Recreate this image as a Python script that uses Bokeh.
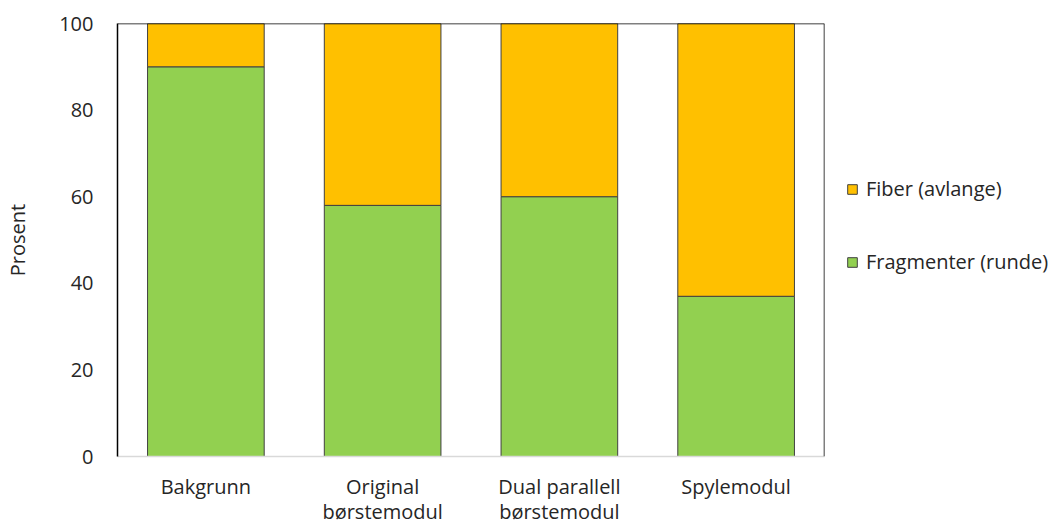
from bokeh.plotting import figure
from bokeh.layouts import row
from bokeh.models import Legend, LegendItem, Span, FixedTicker
from bokeh.embed import file_html
from bokeh.resources import INLINE

categories = ["Bakgrunn", "Original\nbørstemodul", "Dual parallell\nbørstemodul", "Spylemodul"]
fragmenter = [90, 58, 60, 37]
fiber = [10, 42, 40, 63]
series_names = ["Fragmenter (runde)", "Fiber (avlange)"]
colors = ["#92d050", "#ffc000"]
yticks = [0, 20, 40, 60, 80, 100]

FONT = "Open Sans"
TXT = "#262626"
EDGE = "#404040"
H = 528

p = figure(x_range=categories, y_range=(0, 100), width=826, height=H,
           output_backend="svg", toolbar_location=None,
           min_border_left=117, min_border_top=23, min_border_right=2, min_border_bottom=60)

data = dict(cat=categories, frag=fragmenter, fib=fiber)
rs = p.vbar_stack(["frag", "fib"], x="cat", width=0.66, source=data,
                  color=colors, line_color=EDGE, line_width=1)

p.outline_line_color = None
p.xgrid.visible = False
p.ygrid.visible = False

p.yaxis.ticker = FixedTicker(ticks=yticks)
p.yaxis.major_tick_in = 0
p.yaxis.major_tick_out = 0
p.yaxis.minor_tick_line_color = None
p.yaxis.axis_line_color = "black"
p.yaxis.axis_line_width = 1.5
p.yaxis.major_label_standoff = 24
p.yaxis.major_label_text_font = FONT
p.yaxis.major_label_text_font_size = "20px"
p.yaxis.major_label_text_color = TXT
p.yaxis.axis_label = "Prosent"
p.yaxis.axis_label_text_font = FONT
p.yaxis.axis_label_text_font_size = "20px"
p.yaxis.axis_label_text_font_style = "normal"
p.yaxis.axis_label_text_color = TXT
p.yaxis.axis_label_standoff = 25

p.xaxis.major_tick_line_color = None
p.xaxis.axis_line_color = "#d9d9d9"
p.xaxis.axis_line_width = 1.5
p.xaxis.major_label_standoff = 10
p.xaxis.major_label_text_font = FONT
p.xaxis.major_label_text_font_size = "20px"
p.xaxis.major_label_text_color = TXT
p.xaxis.major_label_text_line_height = 0.95

p.add_layout(Span(location=100, dimension="width", line_color="black", line_width=1.5))
p.add_layout(Span(location=len(categories), dimension="height", line_color="black", line_width=1.5))

# legend panel: hidden copies of the series only supply the legend swatches
p2 = figure(width=224, height=H, x_range=categories, y_range=(0, 100),
            output_backend="svg", toolbar_location=None,
            x_axis_type=None, y_axis_type=None,
            min_border_left=0, min_border_right=0, min_border_top=0, min_border_bottom=0)
p2.outline_line_color = None
p2.xgrid.visible = False
p2.ygrid.visible = False
rs2 = p2.vbar_stack(["frag", "fib"], x="cat", width=0.66, source=data,
                    color=colors, line_color=EDGE, line_width=1)
for r in rs2:
    r.visible = False

legend = Legend(items=[LegendItem(label=series_names[1], renderers=[rs2[1]]),
                       LegendItem(label=series_names[0], renderers=[rs2[0]])],
                location=(20, 181), orientation="vertical", click_policy="none",
                padding=0, margin=0, spacing=46, border_line_color=None,
                background_fill_alpha=0, glyph_width=12, glyph_height=12,
                label_height=24, label_standoff=8,
                label_text_font=FONT, label_text_font_size="20px", label_text_color=TXT)
p2.add_layout(legend, "center")

layout = row(p, p2, spacing=0)
open("out.html", "w").write(file_html(layout, INLINE))
